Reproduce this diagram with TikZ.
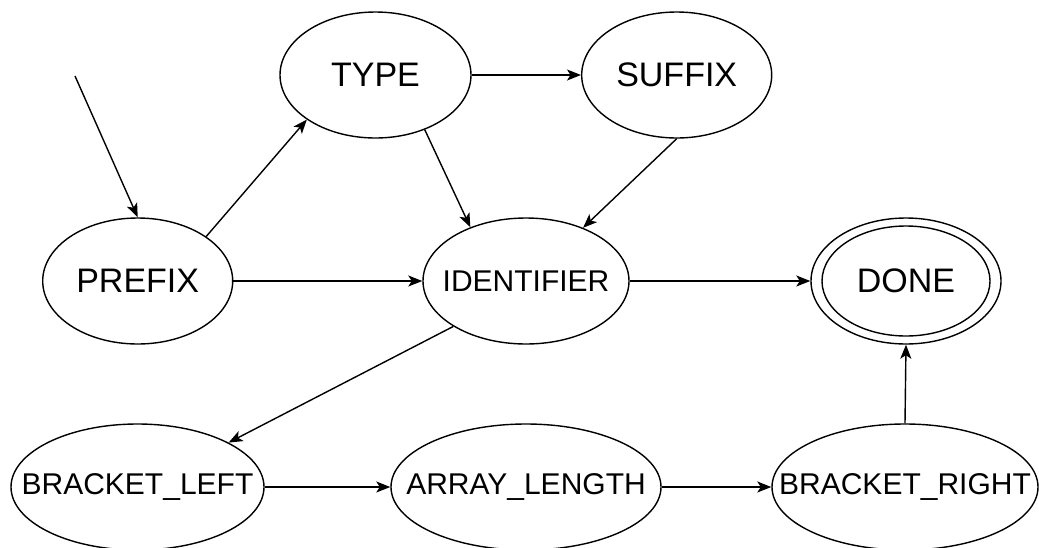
\documentclass[tikz,border=0pt]{standalone}
\usepackage{fontspec}
\setmainfont{Liberation Sans}
\usetikzlibrary{shapes,arrows.meta,calc,positioning}
\newcommand{\statename}[1]{\makebox[0pt]{#1}}
\tikzset{
    semithick,
    state/.style ={ellipse, draw, line width=1.4pt, inner sep=0pt, minimum height=126pt, font=\fontsize{34}{40}\selectfont},
    smallstate/.style ={state, font=\fontsize{30}{35}\selectfont},
    trans/.style={line width=1.4pt, -{Stealth[length=14pt,width=11pt,inset=3.5pt]}}
}

\begin{document}
\begin{tikzpicture}[x=1pt,y=1pt]
        \useasboundingbox (0,0) rectangle (1039,-547);
        \node[state,minimum width=191pt] (type) at (375.5,-75) {\statename{TYPE}};
        \node[state,minimum width=190pt] (suffix) at (676.7,-75) {\statename{SUFFIX}};
        \node[state,minimum width=190pt] (prefix) at (137.7,-281) {\statename{PREFIX}};
        \node[smallstate,minimum width=206pt] (identifier) at (526,-281) {\statename{IDENTIFIER}};
        \node[state,minimum width=190pt] (done) at (906,-281) {\statename{DONE}};
        \node[smallstate,minimum width=253pt] (bracketleft) at (137.5,-487) {\statename{BRACKET\_LEFT}};
        \node[smallstate,minimum width=270pt] (arraylength) at (526,-487) {\statename{ARRAY\_LENGTH}};
        \node[smallstate,minimum width=266pt] (bracketright) at (905,-487) {\statename{BRACKET\_RIGHT}};
        % Accepting state
        \draw[line width=1.4pt] (done.center) ellipse (84 and 55);
        % Start arrow
        \coordinate (start) at (75,-76);
        \draw[trans] (start) -- (prefix.north);
        % Transitions
        \draw[trans] (prefix.33) -- (type.213);
        \draw[trans] (prefix.east) -- (identifier.west);
        \draw[trans] (type.east) -- (suffix.west);
        \draw[trans] (type.-48) -- (identifier.136);
        \draw[trans] (suffix.south) -- (identifier.43);
        \draw[trans] (identifier.east) -- (done.west);
        \draw[trans] (identifier.212) -- (bracketleft.26);
        \draw[trans] (bracketleft.east) -- (arraylength.west);
        \draw[trans] (arraylength.east) -- (bracketright.west);
        \draw[trans] (bracketright.north) -- (done.south);
    \end{tikzpicture}
\end{document}
